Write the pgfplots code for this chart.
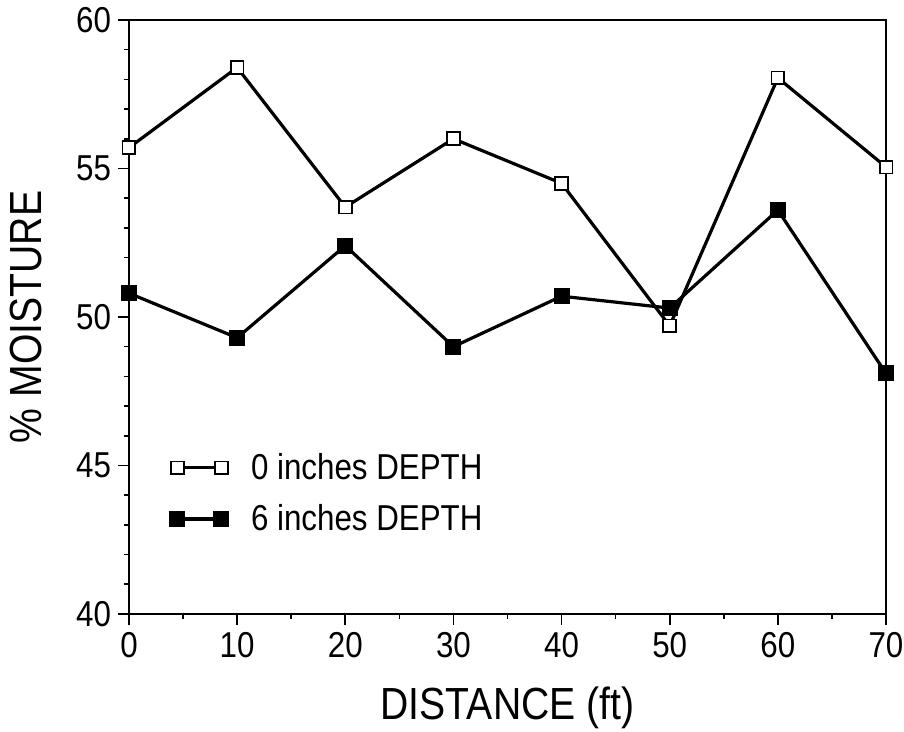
\documentclass[border=0pt]{standalone}
\usepackage{fontspec}
\setmainfont{Liberation Sans}[FakeStretch=0.87]
\usepackage{pgfplots}
\pgfplotsset{compat=1.18}
\begin{document}
\begin{tikzpicture}
\begin{axis}[
    scale only axis,
    width=378.5pt, height=297pt,
    xmin=0, xmax=70, ymin=40, ymax=60,
    xtick={0,10,...,70}, ytick={40,45,...,60},
    minor x tick num=1, minor y tick num=4,
    tick pos=left, tick align=outside,
    major tick length=5.5pt, minor tick length=2.5pt,
    axis line style={line width=1pt},
    every tick/.style={black, line width=0.8pt},
    /pgf/number format/assume math mode=true,
    ticklabel style={font=\fontsize{18}{20}\selectfont},
    xlabel={DISTANCE (ft)},
    ylabel={\% MOISTURE},
    label style={font=\fontsize{22.5}{25}\selectfont},
    xlabel style={yshift=-8pt},
    ylabel style={yshift=10pt},
    legend style={at={(0.055,0.203)}, anchor=west, draw=none, fill=none,
        font=\fontsize{18}{20}\selectfont, row sep=7pt, inner xsep=0pt},
    legend cell align=left,
    legend image code/.code={\draw[#1] plot coordinates {(0pt,0pt) (22pt,0pt)};
        \path (34pt,0pt);},
]
\addplot[black, line width=1.6pt, mark=square*, mark size=3.2pt,
    mark options={fill=white, line width=0.9pt}]
coordinates {(0,55.7) (10,58.4) (20,53.7) (30,56.0) (40,54.5) (50,49.7) (60,58.05) (70,55.05)};
\addplot[black, line width=1.6pt, mark=square*, mark size=3.2pt,
    mark options={fill=black}]
coordinates {(0,50.8) (10,49.3) (20,52.4) (30,49.0) (40,50.7) (50,50.3) (60,53.6) (70,48.1)};
\legend{0 inches DEPTH, 6 inches DEPTH}
\end{axis}
\pgfresetboundingbox
\path (-64.5pt,-59pt) rectangle (387.5pt,307pt);
\end{tikzpicture}
\end{document}
